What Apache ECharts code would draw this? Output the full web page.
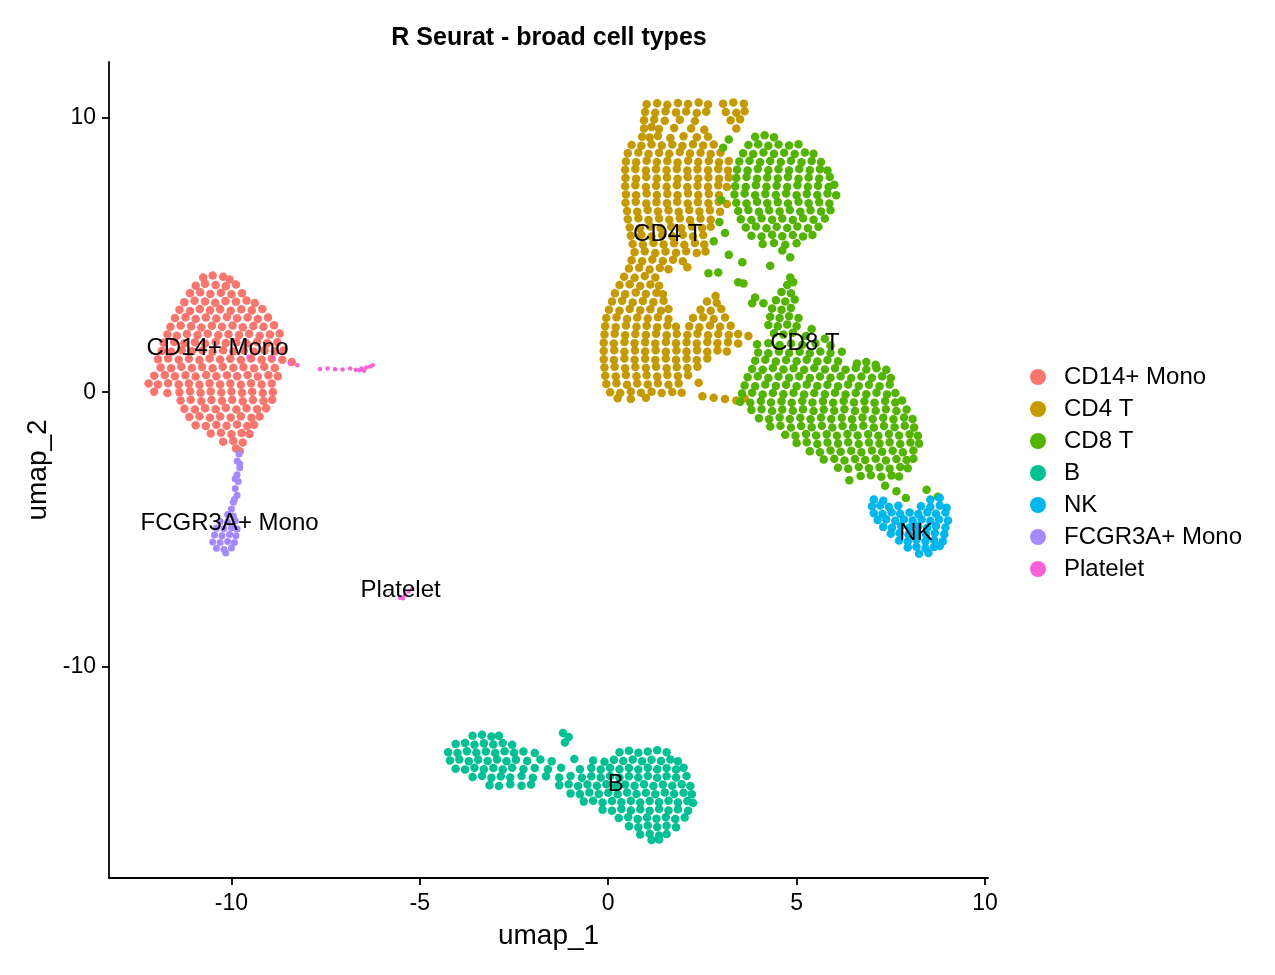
<!DOCTYPE html>
<html>
<head>
    <meta charset="UTF-8">
    <title>R Seurat - broad cell types</title>
    <style>
        html, body { margin: 0; padding: 0; background: #fff; }
        #umapChart { width: 1275px; height: 975px; }
    </style>
    <script src="https://cdn.jsdelivr.net/npm/echarts@6/dist/echarts.min.js"></script>
</head>
<body>
<div id="umapChart"></div>
<script>
    var cellTypes = ['CD14+ Mono', 'CD4 T', 'CD8 T', 'B', 'NK', 'FCGR3A+ Mono', 'Platelet'];
    var cellColors = ['#F8766D', '#C49A00', '#53B400', '#00C094', '#00B6EB', '#A58AFF', '#FB61D7'];
    var xTicks = [-10, -5, 0, 5, 10];
    var yTicks = [-10, 0, 10];
    // where the cluster names sit (data units)
    var labelX = [-10.37, 1.58, 5.22, 0.2, 8.17, -10.05, -5.51];
    var labelY = [1.61, 5.76, 1.79, -14.29, -5.12, -4.76, -7.2];

    var cd14Mono = [
        [-10.75,4.18],[-10.5,4.25],[-10.22,4.2],[-10.05,4.1],
        [-10.95,3.88],[-10.7,3.95],[-10.42,3.9],[-10.15,3.86],[-9.88,3.92],
        [-11.1,3.6],[-10.83,3.64],[-10.56,3.58],[-10.28,3.62],[-10.0,3.57],[-9.72,3.6],
        [-11.25,3.28],[-10.98,3.33],[-10.7,3.3],[-10.43,3.26],[-10.16,3.32],[-9.88,3.29],[-9.6,3.34],[-9.38,3.25],
        [-11.38,3.0],[-11.1,2.96],[-10.84,3.03],[-10.57,2.98],[-10.3,3.02],[-10.02,2.97],[-9.74,3.02],[-9.46,2.98],[-9.18,3.03],
        [-11.5,2.7],[-11.22,2.73],[-10.95,2.67],[-10.68,2.72],[-10.4,2.68],[-10.12,2.74],[-9.85,2.69],[-9.57,2.72],[-9.3,2.67],[-9.03,2.72],
        [-11.62,2.38],[-11.35,2.43],[-11.07,2.4],[-10.8,2.36],[-10.52,2.42],[-10.25,2.38],[-9.97,2.43],[-9.7,2.37],[-9.42,2.41],[-9.15,2.38],[-8.87,2.44],
        [-11.7,2.1],[-11.45,2.06],[-11.18,2.12],[-10.9,2.08],[-10.63,2.13],[-10.35,2.07],[-10.08,2.11],[-9.8,2.08],[-9.53,2.13],[-9.25,2.06],[-8.98,2.1],[-8.72,2.14],
        [-11.8,1.8],[-11.52,1.83],[-11.25,1.78],[-10.97,1.82],[-10.7,1.77],[-10.42,1.83],[-10.15,1.79],[-9.87,1.82],[-9.6,1.77],[-9.32,1.83],[-9.05,1.79],[-8.78,1.82],
        [-11.85,1.5],[-11.6,1.47],[-11.32,1.53],[-11.05,1.49],[-10.77,1.52],[-10.5,1.47],[-10.22,1.53],[-9.95,1.48],[-9.67,1.52],[-9.4,1.47],[-9.12,1.53],[-8.85,1.49],[-8.62,1.52],
        [-11.95,1.2],[-11.68,1.23],[-11.4,1.18],[-11.13,1.22],[-10.85,1.17],[-10.58,1.23],[-10.3,1.19],[-10.03,1.22],[-9.75,1.17],[-9.48,1.23],[-9.2,1.18],[-8.93,1.22],[-8.65,1.18],[-8.4,1.1],
        [-11.88,0.9],[-11.6,0.87],[-11.33,0.93],[-11.05,0.88],[-10.78,0.92],[-10.5,0.87],[-10.23,0.93],[-9.95,0.89],[-9.68,0.92],[-9.4,0.87],[-9.13,0.93],[-8.85,0.88],
        [-12.05,0.6],[-11.77,0.63],[-11.5,0.58],[-11.22,0.62],[-10.95,0.57],[-10.67,0.63],[-10.4,0.58],[-10.12,0.62],[-9.85,0.58],[-9.57,0.63],[-9.3,0.57],[-9.02,0.62],[-8.77,0.58],
        [-12.2,0.32],[-11.95,0.28],[-11.68,0.33],[-11.4,0.28],[-11.13,0.32],[-10.85,0.27],[-10.58,0.33],[-10.3,0.28],[-10.03,0.32],[-9.75,0.27],[-9.48,0.33],[-9.2,0.28],[-8.93,0.32],
        [-12.05,0.02],[-11.7,-0.03],[-11.38,0.0],[-11.1,0.04],[-10.82,-0.02],[-10.55,0.03],[-10.27,-0.01],[-10.0,0.03],[-9.72,-0.02],[-9.45,0.02],[-9.17,-0.03],[-8.9,0.01],
        [-11.35,-0.3],[-11.08,-0.27],[-10.8,-0.33],[-10.53,-0.28],[-10.25,-0.32],[-9.98,-0.27],[-9.7,-0.33],[-9.43,-0.28],[-9.15,-0.32],[-8.92,-0.27],
        [-11.25,-0.6],[-10.97,-0.63],[-10.7,-0.58],[-10.42,-0.62],[-10.15,-0.57],[-9.87,-0.63],[-9.6,-0.58],[-9.32,-0.62],[-9.08,-0.58],
        [-11.12,-0.9],[-10.85,-0.87],[-10.57,-0.93],[-10.3,-0.88],[-10.02,-0.92],[-9.75,-0.87],[-9.47,-0.93],[-9.25,-0.88],
        [-10.95,-1.2],[-10.68,-1.23],[-10.4,-1.18],[-10.13,-1.22],[-9.85,-1.17],[-9.58,-1.23],[-9.4,-1.18],
        [-10.55,-1.5],[-10.28,-1.47],[-10.0,-1.53],[-9.73,-1.48],[-9.52,-1.52],
        [-10.22,-1.8],[-9.95,-1.77],[-9.7,-1.83],
        [-9.88,-2.05],[-9.78,-2.15]
    ];

    var cd4T = [
        [1.02,10.48],[1.3,10.52],[1.57,10.46],[1.85,10.53],[2.12,10.49],[2.4,10.55],[2.65,10.47],[3.05,10.5],[3.32,10.55],[3.6,10.5],
        [0.98,10.2],[1.25,10.17],[1.52,10.23],[1.8,10.18],[2.07,10.22],[2.35,10.16],[2.6,10.21],[3.12,10.2],[3.4,10.17],[3.62,10.23],
        [0.95,9.9],[1.22,9.93],[1.5,9.88],[1.9,9.92],[2.3,9.87],[3.25,9.9],[3.5,9.94],
        [0.95,9.6],[1.15,9.65],[1.35,9.58],[1.75,9.62],[2.2,9.6],[2.55,9.55],[3.4,9.6],
        [0.9,9.3],[1.1,9.27],[1.32,9.33],[1.65,9.25],[2.0,9.32],[2.35,9.28],[2.65,9.3],
        [0.62,9.0],[0.88,8.97],[1.15,9.03],[1.42,8.98],[1.7,9.02],[1.97,8.96],[2.25,9.03],[2.52,8.98],[2.8,9.02],
        [0.52,8.7],[0.8,8.73],[1.07,8.67],[1.35,8.72],[1.62,8.68],[1.9,8.74],[2.17,8.69],[2.45,8.72],[2.72,8.67],[2.98,8.72],
        [0.47,8.4],[0.74,8.37],[1.02,8.43],[1.29,8.38],[1.57,8.42],[1.84,8.36],[2.12,8.43],[2.39,8.38],[2.67,8.42],[2.94,8.37],[3.2,8.42],
        [0.45,8.1],[0.72,8.13],[1.0,8.07],[1.27,8.12],[1.55,8.08],[1.82,8.13],[2.1,8.07],[2.37,8.12],[2.65,8.08],[2.92,8.13],[3.18,8.07],
        [0.46,7.8],[0.74,7.77],[1.01,7.83],[1.29,7.78],[1.56,7.82],[1.84,7.77],[2.11,7.83],[2.39,7.78],[2.66,7.82],[2.94,7.77],[3.2,7.82],
        [0.45,7.5],[0.72,7.53],[1.0,7.47],[1.27,7.52],[1.55,7.48],[1.82,7.53],[2.1,7.47],[2.37,7.52],[2.65,7.48],[2.92,7.53],[3.15,7.47],
        [0.47,7.2],[0.74,7.17],[1.02,7.23],[1.29,7.18],[1.57,7.22],[1.84,7.17],[2.12,7.23],[2.39,7.18],[2.67,7.22],[2.94,7.17],
        [0.46,6.9],[0.73,6.93],[1.01,6.87],[1.28,6.92],[1.56,6.88],[1.83,6.93],[2.11,6.87],[2.38,6.92],[2.66,6.88],[2.93,6.93],[3.15,6.85],
        [0.5,6.6],[0.77,6.57],[1.05,6.63],[1.32,6.58],[1.6,6.62],[1.87,6.57],[2.15,6.63],[2.42,6.58],[2.7,6.62],[2.97,6.57],
        [0.52,6.3],[0.8,6.33],[1.07,6.27],[1.35,6.32],[1.62,6.28],[1.9,6.33],[2.17,6.27],[2.45,6.32],[2.72,6.28],
        [0.57,6.0],[0.84,5.97],[1.12,6.03],[1.39,5.98],[1.67,6.02],[1.94,5.97],[2.22,6.03],[2.49,5.98],[2.72,6.02],
        [0.6,5.7],[0.88,5.73],[1.15,5.67],[1.43,5.72],[1.7,5.68],[1.98,5.73],[2.25,5.67],[2.52,5.72],
        [0.65,5.4],[0.92,5.37],[1.2,5.43],[1.47,5.38],[1.75,5.42],[2.02,5.37],[2.3,5.43],[2.55,5.38],
        [0.7,5.1],[0.97,5.13],[1.25,5.07],[1.52,5.12],[1.8,5.08],[2.07,5.13],[2.35,5.07],[2.58,5.12],
        [0.62,4.8],[0.9,4.77],[1.17,4.83],[1.45,4.78],[1.72,4.82],[1.98,4.77],
        [0.55,4.5],[0.82,4.53],[1.1,4.47],[1.37,4.52],[1.6,4.48],[2.1,4.55],
        [0.42,4.2],[0.7,4.17],[0.97,4.23],[1.25,4.18],
        [0.3,3.9],[0.57,3.93],[0.85,3.87],[1.12,3.92],[1.35,3.88],
        [0.18,3.6],[0.45,3.57],[0.73,3.63],[1.0,3.58],[1.28,3.62],[1.45,3.57],[2.85,3.5],
        [0.1,3.3],[0.37,3.33],[0.65,3.27],[0.92,3.32],[1.2,3.28],[1.47,3.33],[2.62,3.3],[2.88,3.25],
        [0.02,3.0],[0.3,2.97],[0.57,3.03],[0.85,2.98],[1.12,3.02],[1.4,2.97],[1.6,3.03],[2.45,3.0],[2.72,2.97],[3.0,3.03],
        [-0.05,2.7],[0.22,2.73],[0.5,2.67],[0.77,2.72],[1.05,2.68],[1.32,2.73],[1.6,2.67],[2.25,2.7],[2.52,2.73],[2.8,2.67],[3.1,2.72],
        [-0.08,2.4],[0.2,2.37],[0.47,2.43],[0.75,2.38],[1.02,2.42],[1.3,2.37],[1.57,2.43],[1.8,2.38],[2.15,2.4],[2.42,2.37],[2.7,2.43],[2.97,2.38],[3.25,2.42],
        [-0.1,2.1],[0.17,2.13],[0.45,2.07],[0.72,2.12],[1.0,2.08],[1.27,2.13],[1.55,2.07],[1.82,2.12],[2.1,2.08],[2.37,2.13],[2.65,2.07],[2.92,2.12],[3.2,2.08],[3.45,2.12],[3.72,2.05],
        [-0.12,1.8],[0.15,1.77],[0.43,1.83],[0.7,1.78],[0.98,1.82],[1.25,1.77],[1.53,1.83],[1.8,1.78],[2.08,1.82],[2.35,1.77],[2.63,1.83],[2.9,1.78],[3.18,1.82],[3.45,1.77],
        [-0.12,1.5],[0.16,1.53],[0.43,1.47],[0.71,1.52],[0.98,1.48],[1.26,1.53],[1.53,1.47],[1.81,1.52],[2.08,1.48],[2.36,1.53],[2.63,1.47],[2.9,1.52],[3.15,1.48],
        [-0.12,1.2],[0.15,1.17],[0.43,1.23],[0.7,1.18],[0.98,1.22],[1.25,1.17],[1.53,1.23],[1.8,1.18],[2.08,1.22],[2.35,1.17],[2.63,1.23],
        [-0.1,0.9],[0.17,0.93],[0.45,0.87],[0.72,0.92],[1.0,0.88],[1.27,0.93],[1.55,0.87],[1.82,0.92],[2.1,0.88],[2.37,0.93],
        [-0.08,0.6],[0.2,0.57],[0.47,0.63],[0.75,0.58],[1.02,0.62],[1.3,0.57],[1.57,0.63],[1.85,0.58],[2.12,0.62],
        [-0.05,0.3],[0.22,0.33],[0.5,0.27],[0.77,0.32],[1.05,0.28],[1.32,0.33],[1.6,0.27],[1.87,0.32],[2.4,0.35],
        [0.05,0.0],[0.32,-0.03],[0.6,0.03],[0.87,-0.02],[1.15,0.02],[1.42,-0.03],[1.7,0.01],[1.95,-0.02],[2.5,-0.15],[2.8,-0.2],[3.1,-0.25],[3.4,-0.3],[3.62,-0.22],
        [0.25,-0.22],[0.6,-0.25],[1.0,-0.2]
    ];

    var cd8T = [
        [3.9,9.3],[4.15,9.35],[4.4,9.28],
        [3.72,9.0],[3.98,9.03],[4.25,8.97],[4.52,9.02],[4.8,8.98],[5.05,9.03],
        [3.58,8.7],[3.85,8.67],[4.12,8.73],[4.4,8.68],[4.67,8.72],[4.95,8.67],[5.22,8.73],[5.45,8.68],
        [3.48,8.4],[3.75,8.43],[4.03,8.37],[4.3,8.42],[4.58,8.38],[4.85,8.43],[5.13,8.37],[5.4,8.42],[5.65,8.38],
        [3.42,8.1],[3.7,8.07],[3.97,8.13],[4.25,8.08],[4.52,8.12],[4.8,8.07],[5.07,8.13],[5.35,8.08],[5.62,8.12],[5.82,8.07],
        [3.4,7.8],[3.67,7.83],[3.95,7.77],[4.22,7.82],[4.5,7.78],[4.77,7.83],[5.05,7.77],[5.32,7.82],[5.6,7.78],[5.88,7.83],
        [3.37,7.5],[3.65,7.47],[3.92,7.53],[4.2,7.48],[4.47,7.52],[4.75,7.47],[5.02,7.53],[5.3,7.48],[5.57,7.52],[5.85,7.47],[6.0,7.55],
        [3.35,7.2],[3.62,7.23],[3.9,7.17],[4.17,7.22],[4.45,7.18],[4.72,7.23],[5.0,7.17],[5.27,7.22],[5.55,7.18],[5.82,7.23],[6.05,7.17],
        [3.4,6.9],[3.67,6.87],[3.95,6.93],[4.22,6.88],[4.5,6.92],[4.77,6.87],[5.05,6.93],[5.32,6.88],[5.6,6.92],[5.87,6.87],
        [3.45,6.6],[3.72,6.63],[4.0,6.57],[4.27,6.62],[4.55,6.58],[4.82,6.63],[5.1,6.57],[5.37,6.62],[5.65,6.58],[5.9,6.62],
        [3.52,6.3],[3.8,6.27],[4.07,6.33],[4.35,6.28],[4.62,6.32],[4.9,6.27],[5.17,6.33],[5.45,6.28],[5.75,6.32],
        [3.65,6.0],[3.92,6.03],[4.2,5.97],[4.47,6.02],[4.75,5.98],[5.02,6.03],[5.3,5.97],[5.58,6.02],
        [3.8,5.7],[4.07,5.67],[4.35,5.73],[4.62,5.68],[4.9,5.72],[5.17,5.67],[5.42,5.72],
        [4.1,5.4],[4.4,5.43],[4.7,5.37],[5.0,5.42],
        [3.05,8.9],[3.2,9.2],[2.95,6.2],[3.1,5.8],[2.8,5.5],[3.0,7.0],
        [2.66,4.33],[2.92,4.36],[3.56,4.73],[3.45,4.0],[3.59,3.96],[3.9,3.45],[3.82,3.24],[4.12,3.24],
        [4.83,4.18],[4.83,4.91],[4.91,4.0],[4.62,5.16],[4.3,4.6],[3.2,5.0],
        [4.75,3.9],[4.6,3.65],[4.85,3.6],[4.45,3.35],[4.7,3.3],[4.95,3.38],[4.35,3.05],[4.6,3.0],[4.85,3.07],
        [4.3,2.75],[4.55,2.7],[4.8,2.77],[5.05,2.7],[4.25,2.45],[4.5,2.4],[4.75,2.47],[5.0,2.4],
        [4.4,2.15],[4.65,2.1],[4.9,2.17],[5.4,2.3],[5.75,1.95],[5.25,2.05],
        [3.95,1.75],[4.25,1.78],[4.55,1.72],[4.85,1.77],[5.15,1.73],[5.5,1.78],[5.9,1.7],
        [3.98,1.45],[4.25,1.42],[4.53,1.48],[4.8,1.43],[5.08,1.47],[5.35,1.42],[5.63,1.48],[5.9,1.43],[6.2,1.47],
        [3.9,1.15],[4.17,1.18],[4.45,1.12],[4.72,1.17],[5.0,1.13],[5.27,1.18],[5.55,1.12],[5.82,1.17],[6.1,1.13],[6.6,1.05],[6.85,1.1],[7.1,1.0],
        [3.82,0.85],[4.1,0.82],[4.37,0.88],[4.65,0.83],[4.92,0.87],[5.2,0.82],[5.47,0.88],[5.75,0.83],[6.02,0.87],[6.3,0.82],[6.57,0.88],[6.85,0.83],[7.12,0.87],[7.38,0.82],
        [3.7,0.55],[3.97,0.58],[4.25,0.52],[4.52,0.57],[4.8,0.53],[5.07,0.58],[5.35,0.52],[5.62,0.57],[5.9,0.53],[6.17,0.58],[6.45,0.52],[6.72,0.57],[7.0,0.53],[7.27,0.58],[7.5,0.52],
        [3.62,0.25],[3.9,0.22],[4.17,0.28],[4.45,0.23],[4.72,0.27],[5.0,0.22],[5.27,0.28],[5.55,0.23],[5.82,0.27],[6.1,0.22],[6.37,0.28],[6.65,0.23],[6.92,0.27],[7.2,0.22],[7.47,0.28],
        [3.55,-0.05],[3.82,-0.02],[4.1,-0.08],[4.37,-0.03],[4.65,-0.07],[4.92,-0.02],[5.2,-0.08],[5.47,-0.03],[5.75,-0.07],[6.02,-0.02],[6.3,-0.08],[6.57,-0.03],[6.85,-0.07],[7.12,-0.02],[7.4,-0.08],[7.62,-0.03],
        [3.5,-0.35],[3.77,-0.38],[4.05,-0.32],[4.32,-0.37],[4.6,-0.33],[4.87,-0.38],[5.15,-0.32],[5.42,-0.37],[5.7,-0.33],[5.97,-0.38],[6.25,-0.32],[6.52,-0.37],[6.8,-0.33],[7.07,-0.38],[7.35,-0.32],[7.62,-0.37],[7.8,-0.3],
        [3.8,-0.65],[4.07,-0.62],[4.35,-0.68],[4.62,-0.63],[4.9,-0.67],[5.17,-0.62],[5.45,-0.68],[5.72,-0.63],[6.0,-0.67],[6.27,-0.62],[6.55,-0.68],[6.82,-0.63],[7.1,-0.67],[7.37,-0.62],[7.65,-0.68],[7.92,-0.63],
        [4.0,-0.95],[4.27,-0.98],[4.55,-0.92],[4.82,-0.97],[5.1,-0.93],[5.37,-0.98],[5.65,-0.92],[5.92,-0.97],[6.2,-0.93],[6.47,-0.98],[6.75,-0.92],[7.02,-0.97],[7.3,-0.93],[7.57,-0.98],[7.85,-0.92],[8.08,-0.97],
        [4.3,-1.25],[4.57,-1.22],[4.85,-1.28],[5.12,-1.23],[5.4,-1.27],[5.67,-1.22],[5.95,-1.28],[6.22,-1.23],[6.5,-1.27],[6.77,-1.22],[7.05,-1.28],[7.32,-1.23],[7.6,-1.27],[7.87,-1.22],[8.12,-1.28],
        [4.7,-1.55],[4.97,-1.58],[5.25,-1.52],[5.52,-1.57],[5.8,-1.53],[6.07,-1.58],[6.35,-1.52],[6.62,-1.57],[6.9,-1.53],[7.17,-1.58],[7.45,-1.52],[7.72,-1.57],[8.0,-1.53],[8.22,-1.58],
        [5.0,-1.85],[5.27,-1.82],[5.55,-1.88],[5.82,-1.83],[6.1,-1.87],[6.37,-1.82],[6.65,-1.88],[6.92,-1.83],[7.2,-1.87],[7.47,-1.82],[7.75,-1.88],[8.02,-1.83],[8.25,-1.87],
        [5.35,-2.15],[5.62,-2.18],[5.9,-2.12],[6.17,-2.17],[6.45,-2.13],[6.72,-2.18],[7.0,-2.12],[7.27,-2.17],[7.55,-2.13],[7.82,-2.18],[8.1,-2.12],
        [5.72,-2.45],[6.0,-2.42],[6.27,-2.48],[6.55,-2.43],[6.82,-2.47],[7.1,-2.42],[7.37,-2.48],[7.65,-2.43],[7.92,-2.47],[8.1,-2.42],
        [6.1,-2.75],[6.37,-2.78],[6.65,-2.72],[6.92,-2.77],[7.2,-2.73],[7.47,-2.78],[7.75,-2.72],[7.95,-2.77],
        [6.7,-3.05],[6.97,-3.02],[7.25,-3.08],[7.52,-3.03],[7.72,-3.07],
        [7.35,-3.4],[7.65,-3.6],[7.9,-3.85],[6.4,-3.2],[8.45,-3.55],[8.75,-3.8]
    ];

    var bCells = [
        [-3.6,-12.5],[-3.35,-12.47],[-3.1,-12.53],[-2.9,-12.5],
        [-4.05,-12.8],[-3.8,-12.77],[-3.55,-12.83],[-3.3,-12.78],[-3.05,-12.82],[-2.8,-12.77],[-2.55,-12.83],
        [-1.2,-12.4],[-1.05,-12.55],[-1.15,-12.75],
        [-4.25,-13.1],[-4.0,-13.13],[-3.75,-13.07],[-3.5,-13.12],[-3.25,-13.08],[-3.0,-13.13],[-2.75,-13.07],[-2.5,-13.12],[-2.25,-13.08],[-1.95,-13.13],
        [0.3,-13.1],[0.55,-13.05],[0.8,-13.12],[1.05,-13.08],[1.3,-13.03],[1.55,-13.1],
        [-4.2,-13.4],[-3.95,-13.37],[-3.7,-13.43],[-3.45,-13.38],[-3.2,-13.42],[-2.95,-13.37],[-2.7,-13.43],[-2.45,-13.38],[-2.15,-13.42],[-1.8,-13.37],[-1.5,-13.43],[-0.9,-13.35],
        [-0.4,-13.4],[-0.1,-13.45],[0.15,-13.38],[0.4,-13.42],[0.65,-13.37],[0.9,-13.43],[1.15,-13.38],[1.4,-13.42],[1.65,-13.37],[1.85,-13.43],
        [-4.05,-13.7],[-3.8,-13.73],[-3.55,-13.67],[-3.3,-13.72],[-3.05,-13.68],[-2.8,-13.73],[-2.55,-13.67],[-2.25,-13.72],[-1.95,-13.68],[-1.6,-13.72],[-1.25,-13.67],
        [-0.75,-13.72],[-0.45,-13.68],[-0.2,-13.73],[0.05,-13.67],[0.3,-13.72],[0.55,-13.68],[0.8,-13.73],[1.05,-13.67],[1.3,-13.72],[1.55,-13.68],[1.8,-13.73],[2.0,-13.67],
        [-3.6,-14.0],[-3.35,-13.97],[-3.1,-14.03],[-2.85,-13.98],[-2.6,-14.02],[-2.3,-13.97],[-2.0,-14.03],[-1.65,-13.98],[-1.3,-14.02],[-1.0,-13.97],[-0.7,-14.03],
        [-0.45,-13.98],[-0.2,-14.02],[0.05,-13.97],[0.3,-14.03],[0.55,-13.98],[0.8,-14.02],[1.05,-13.97],[1.3,-14.03],[1.55,-13.98],[1.8,-14.02],[2.08,-13.97],
        [-3.15,-14.3],[-2.9,-14.33],[-2.6,-14.27],[-2.3,-14.32],[-2.05,-14.28],[-1.3,-14.3],[-1.05,-14.27],[-0.8,-14.33],[-0.55,-14.28],[-0.3,-14.32],
        [-0.05,-14.27],[0.2,-14.33],[0.45,-14.28],[0.7,-14.32],[0.95,-14.27],[1.2,-14.33],[1.45,-14.28],[1.7,-14.32],[1.95,-14.27],[2.18,-14.33],
        [-1.0,-14.6],[-0.75,-14.63],[-0.5,-14.57],[-0.25,-14.62],[0.0,-14.58],[0.25,-14.63],[0.5,-14.57],[0.75,-14.62],[1.0,-14.58],[1.25,-14.63],[1.5,-14.57],[1.75,-14.62],[2.0,-14.58],[2.22,-14.63],
        [-0.65,-14.9],[-0.4,-14.87],[-0.15,-14.93],[0.1,-14.88],[0.35,-14.92],[0.6,-14.87],[0.85,-14.93],[1.1,-14.88],[1.35,-14.92],[1.6,-14.87],[1.85,-14.93],[2.1,-14.88],[2.25,-14.95],
        [-0.15,-15.2],[0.1,-15.23],[0.35,-15.17],[0.6,-15.22],[0.85,-15.18],[1.1,-15.23],[1.35,-15.17],[1.6,-15.22],[1.85,-15.18],[2.12,-15.23],
        [0.28,-15.5],[0.53,-15.47],[0.78,-15.53],[1.03,-15.48],[1.28,-15.52],[1.53,-15.47],[1.78,-15.53],[2.03,-15.48],
        [0.55,-15.8],[0.8,-15.83],[1.05,-15.77],[1.3,-15.82],[1.55,-15.78],[1.8,-15.83],
        [0.85,-16.1],[1.1,-16.07],[1.35,-16.13],[1.55,-16.08],
        [1.15,-16.3],[1.35,-16.28]
    ];

    var nkCells = [
        [7.05,-3.9],[7.3,-3.95],[8.55,-3.9],[8.8,-3.85],
        [7.0,-4.15],[7.22,-4.12],[7.45,-4.18],[7.7,-4.13],[8.3,-4.15],[8.55,-4.18],[8.8,-4.12],[8.98,-4.2],
        [7.05,-4.4],[7.28,-4.43],[7.52,-4.37],[7.75,-4.42],[8.0,-4.38],[8.23,-4.43],[8.47,-4.37],[8.7,-4.42],[8.95,-4.38],
        [7.15,-4.65],[7.38,-4.62],[7.62,-4.68],[7.85,-4.63],[8.08,-4.67],[8.32,-4.62],[8.55,-4.68],[8.78,-4.63],[9.02,-4.67],
        [7.3,-4.9],[7.53,-4.93],[7.77,-4.87],[8.0,-4.92],[8.23,-4.88],[8.47,-4.93],[8.7,-4.87],[8.95,-4.92],
        [7.5,-5.15],[7.73,-5.12],[7.97,-5.18],[8.2,-5.13],[8.43,-5.17],[8.67,-5.12],[8.92,-5.17],
        [7.72,-5.4],[7.95,-5.43],[8.18,-5.37],[8.42,-5.42],[8.65,-5.38],[8.88,-5.42],
        [7.95,-5.65],[8.18,-5.62],[8.42,-5.68],[8.65,-5.63],[8.8,-5.6],
        [8.25,-5.88],[8.5,-5.85]
    ];

    var fcgr3aMono = [
        [-9.8,-2.25],[-9.85,-2.5],[-9.78,-2.75],[-9.85,-3.0],[-9.82,-3.25],[-9.9,-3.5],[-9.85,-3.75],[-9.95,-4.0],[-10.0,-4.25],
        [-9.78,-2.6],[-9.9,-3.15],[-9.92,-3.9],
        [-10.1,-4.45],[-9.95,-4.5],[-10.3,-4.7],[-10.1,-4.72],[-9.9,-4.68],
        [-10.4,-4.95],[-10.2,-4.97],[-10.0,-4.93],[-9.85,-4.98],
        [-10.45,-5.2],[-10.25,-5.22],[-10.05,-5.18],[-9.88,-5.22],
        [-10.5,-5.45],[-10.3,-5.47],[-10.1,-5.43],[-9.92,-5.47],
        [-10.4,-5.68],[-10.2,-5.72],[-10.0,-5.67],[-10.15,-5.85]
    ];

    var platelet = [
        [-9.55,1.28],[-8.9,1.25],[-8.45,1.05],[-8.25,0.98],[-7.65,0.85],[-7.45,0.86],[-7.25,0.84],[-7.05,0.83],
        [-6.85,0.86],[-6.7,0.82],[-6.55,0.86],[-6.42,0.9],[-6.32,0.94],[-6.25,0.98],[-6.48,0.78],[-6.6,0.8],
        [-5.52,-7.48],[-5.4,-7.38],[-5.3,-7.25],[-5.2,-7.15],[-5.45,-7.5]
    ];

    var clusterData = [cd14Mono, cd4T, cd8T, bCells, nkCells, fcgr3aMono, platelet];
    var dotSize = [8.5, 8.5, 8.5, 8.5, 8.5, 7, 4.5];
    var font = '"Liberation Sans", Arial, Helvetica, sans-serif';

    var series = [];
    for (var i = 0; i < cellTypes.length; i++) {
        series.push({
            name: cellTypes[i],
            type: 'scatter',
            data: clusterData[i],
            symbolSize: dotSize[i],
            itemStyle: {color: cellColors[i], opacity: 1},
            silent: true
        });
    }
    var labelPoints = [];
    for (var j = 0; j < cellTypes.length; j++) {
        labelPoints.push({value: [labelX[j], labelY[j]], name: cellTypes[j]});
    }
    series.push({
        name: 'labels',
        type: 'scatter',
        data: labelPoints,
        symbolSize: 1,
        silent: true,
        z: 10,
        itemStyle: {color: 'rgba(0,0,0,0)', opacity: 1},
        label: {
            show: true,
            position: 'inside',
            formatter: '{b}',
            color: '#000',
            opacity: 1,
            fontSize: 24,
            fontFamily: font
        }
    });

    var chart = echarts.init(document.getElementById('umapChart'));
    chart.setOption({
        backgroundColor: '#fff',
        animation: false,
        textStyle: {fontFamily: font},
        title: {
            text: 'R Seurat - broad cell types',
            left: 544,
            top: 21,
            textAlign: 'center',
            textStyle: {fontSize: 25, fontWeight: 'bold', color: '#000', fontFamily: font}
        },
        legend: {
            data: cellTypes,
            orient: 'vertical',
            left: 1025,
            top: 360,
            icon: 'circle',
            itemWidth: 16,
            itemHeight: 16,
            itemGap: 8,
            textStyle: {fontSize: 24, lineHeight: 22, color: '#000', padding: [0, 0, 0, 13], fontFamily: font}
        },
        grid: {left: 109, right: 287, top: 62, bottom: 97},
        xAxis: {
            type: 'value',
            min: -13.25,
            max: 10.08,
            name: 'umap_1',
            nameLocation: 'middle',
            nameGap: 44,
            nameTextStyle: {fontSize: 28, color: '#000', fontFamily: font},
            splitLine: {show: false},
            axisLine: {onZero: false, lineStyle: {color: '#000', width: 1.8}},
            axisTick: {customValues: xTicks, length: 7, lineStyle: {color: '#000', width: 1.8}},
            axisLabel: {customValues: xTicks, fontSize: 23, color: '#000', margin: 14}
        },
        yAxis: {
            type: 'value',
            min: -17.68,
            max: 12.02,
            name: 'umap_2',
            nameLocation: 'middle',
            nameGap: 57,
            nameTextStyle: {fontSize: 28, color: '#000', fontFamily: font},
            splitLine: {show: false},
            axisLine: {onZero: false, lineStyle: {color: '#000', width: 1.8}},
            axisTick: {customValues: yTicks, length: 7, lineStyle: {color: '#000', width: 1.8}},
            axisLabel: {customValues: yTicks, fontSize: 23, color: '#000', margin: 13}
        },
        series: series
    });
</script>
</body>
</html>
